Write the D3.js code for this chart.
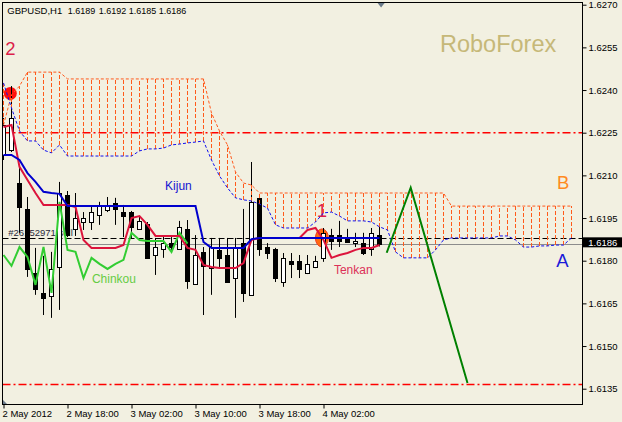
<!DOCTYPE html>
<html><head><meta charset="utf-8">
<script src="https://cdn.jsdelivr.net/npm/d3@7"></script>
<style>
html,body{margin:0;padding:0;background:#F2F0E1;}
svg{display:block;}
text{font-family:"Liberation Sans",Arial,sans-serif;}
</style></head><body>
<svg id="c" width="622" height="422"></svg>
<script>
// ---------- DATA ----------
const opens  = [1.62172,1.62189,1.62073,1.61982,1.61757,1.61687,1.61676,1.61778,1.62031,1.61912,1.61936,1.61936,1.61961,1.61978,1.62003,1.61971,1.61971,1.61912,1.61929,1.61820,1.61841,1.61862,1.61841,1.61912,1.61718,1.61831,1.61774,1.61838,1.61820,1.61739,1.61862,1.61680,1.62021,1.61848,1.61841,1.61725,1.61799,1.61799,1.61757,1.61778,1.61810,1.61890,1.61890,1.61880,1.61862,1.61862,1.61841,1.61890];
const highs  = [1.62302,1.62414,1.62126,1.62024,1.61845,1.61817,1.61831,1.62077,1.62045,1.62038,1.61971,1.61989,1.62007,1.62024,1.62021,1.61996,1.61975,1.61957,1.61936,1.61880,1.61890,1.61883,1.61940,1.61943,1.61890,1.61848,1.61880,1.61880,1.61880,1.61880,1.61982,1.62147,1.62024,1.61862,1.61845,1.61827,1.61827,1.61820,1.61820,1.61817,1.61915,1.61912,1.61940,1.61912,1.61898,1.61898,1.61915,1.61920];
const lows   = [1.62154,1.62182,1.61898,1.61743,1.61680,1.61609,1.61599,1.61627,1.61883,1.61887,1.61908,1.61908,1.61926,1.61971,1.61926,1.61883,1.61880,1.61908,1.61806,1.61750,1.61810,1.61831,1.61838,1.61701,1.61715,1.61609,1.61680,1.61778,1.61725,1.61599,1.61655,1.61676,1.61817,1.61806,1.61725,1.61708,1.61739,1.61739,1.61753,1.61774,1.61796,1.61838,1.61848,1.61866,1.61848,1.61820,1.61817,1.61850];
const closes = [1.62277,1.62302,1.61989,1.61771,1.61701,1.61669,1.61771,1.62038,1.61890,1.61950,1.61950,1.61971,1.61996,1.61996,1.61982,1.61957,1.61919,1.61940,1.61810,1.61848,1.61862,1.61848,1.61919,1.61729,1.61820,1.61782,1.61848,1.61810,1.61725,1.61848,1.61687,1.62007,1.61841,1.61827,1.61739,1.61810,1.61789,1.61771,1.61789,1.61799,1.61898,1.61869,1.61869,1.61866,1.61869,1.61827,1.61898,1.61860];

const tenkan = [1.62270,1.62277,1.62130,1.62084,1.62038,1.61996,1.61996,1.61996,1.61996,1.61989,1.61873,1.61845,1.61845,1.61845,1.61845,1.61855,1.61950,1.61957,1.61926,1.61887,1.61887,1.61887,1.61887,1.61845,1.61838,1.61785,1.61778,1.61774,1.61774,1.61774,1.61792,1.61873,1.61880,1.61880,1.61880,1.61880,1.61880,1.61880,1.61908,1.61915,1.61873,1.61810,1.61820,1.61827,1.61838,1.61845,1.61845,1.61855];
const kijun  = [1.62172,1.62172,1.62154,1.62108,1.62077,1.62042,1.62038,1.62035,1.61992,1.61992,1.61992,1.61992,1.61992,1.61992,1.61992,1.61992,1.61992,1.61992,1.61992,1.61992,1.61992,1.61992,1.61992,1.61992,1.61992,1.61866,1.61845,1.61845,1.61845,1.61845,1.61845,1.61876,1.61880,1.61880,1.61880,1.61880,1.61880,1.61880,1.61880,1.61880,1.61880,1.61880,1.61880,1.61880,1.61880,1.61880,1.61880,1.61880];
const chinkou = [1.61820,1.61782,1.61848,1.61813,1.61715,1.61848,1.61687,1.62007,1.61838,1.61831,1.61739,1.61810,1.61789,1.61771,1.61789,1.61803,1.61898,1.61873,1.61869,1.61869,1.61869,1.61831,1.61898,1.61860];
const spanA = [1.62425,1.62337,1.62256,1.62221,1.62221,1.62189,1.62179,1.62207,1.62168,1.62168,1.62168,1.62168,1.62168,1.62168,1.62168,1.62168,1.62168,1.62186,1.62193,1.62193,1.62196,1.62207,1.62210,1.62214,1.62217,1.62221,1.62154,1.62098,1.62056,1.62021,1.62014,1.62010,1.61999,1.61985,1.61926,1.61915,1.61915,1.61915,1.61915,1.61936,1.61968,1.61971,1.61957,1.61940,1.61940,1.61940,1.61936,1.61919,1.61908,1.61831,1.61810,1.61810,1.61810,1.61810,1.61838,1.61873,1.61880,1.61880,1.61880,1.61880,1.61880,1.61880,1.61887,1.61887,1.61873,1.61848,1.61848,1.61852,1.61852,1.61855,1.61855,1.61880];
const spanB = [1.62277,1.62383,1.62414,1.62463,1.62463,1.62463,1.62463,1.62463,1.62439,1.62439,1.62439,1.62439,1.62439,1.62439,1.62439,1.62439,1.62439,1.62439,1.62439,1.62439,1.62439,1.62439,1.62439,1.62439,1.62439,1.62439,1.62319,1.62256,1.62207,1.62112,1.62073,1.62066,1.62038,1.62038,1.62038,1.62038,1.62038,1.62038,1.62038,1.62038,1.62038,1.62038,1.62038,1.62038,1.62038,1.62038,1.62038,1.62038,1.62038,1.62038,1.62038,1.62038,1.62038,1.62038,1.62038,1.62038,1.61992,1.61992,1.61992,1.61992,1.61992,1.61992,1.61992,1.61992,1.61992,1.61992,1.61992,1.61992,1.61992,1.61992,1.61992,1.61992];

const forecastIdx   = [47.9, 50.9, 58];
const forecastPrice = [1.61828, 1.62057, 1.61370];

const levelPrices = [1.6225, 1.61365];
const orderPrice = 1.6188;
const bidPrice = 1.6186;
const orderLabel = "#26152971 sell";

const yTicks = [1.6135,1.6150,1.6165,1.6180,1.6195,1.6210,1.6225,1.6240,1.6255,1.6270];
const xTickIdx = [0,8,16,24,32,40];
const xTickLabels = ["2 May 2012","2 May 18:00","3 May 02:00","3 May 10:00","3 May 18:00","4 May 02:00"];

const symbolTitle = "GBPUSD,H1";
const ohlcTitle = ["1.6189","1.6192","1.6185","1.6186"];

const waveMarks = [{t:"2", i:0.85, p:1.62523}, {t:"1", i:39.8, p:1.61954}];
const lineNames = [
  {t:"Kijun",   i:20.2, p:1.62050, c:"#1414D2"},
  {t:"Chinkou", i:11.05, p:1.61722, c:"#66CC44"},
  {t:"Tenkan",  i:41.3, p:1.61752, c:"#DC3058"}
];
const spanNames = [{t:"B", i:69.2, p:1.62051, c:"#FF8A1E"}, {t:"A", i:69.1, p:1.61779, c:"#1A1AD8"}];
const circleMark = {i:0.85, p:1.62388};
const ellipseMark = {i:39.8, p:1.61880};

// ---------- SCALES ----------
const L=2.5, R=582.5, T=2.5, B=404.5;
const x = d3.scaleLinear().domain([0,72]).range([3.5, 579.5]);
const y = d3.scaleLinear().domain([1.6135,1.6270]).range([388.7, 4.7]);

const svg = d3.select("#c");
svg.append("rect").attr("width",622).attr("height",422).attr("fill","#F2F0E1");

svg.append("defs").append("clipPath").attr("id","clip")
  .append("rect").attr("x",L).attr("y",T).attr("width",R-L).attr("height",B-T);
const g = svg.append("g").attr("clip-path","url(#clip)");

// levels
levelPrices.forEach(p=>{
  g.append("line").attr("x1",L).attr("x2",R).attr("y1",y(p)).attr("y2",y(p))
   .attr("stroke","#FF0000").attr("stroke-width",1.5).attr("stroke-dasharray","8,3,2,3");
});
// bid line
g.append("line").attr("x1",L).attr("x2",R).attr("y1",Math.round(y(bidPrice))+0.5).attr("y2",Math.round(y(bidPrice))+0.5)
  .attr("stroke","#8C8C8C").attr("stroke-width",1);
// order line
g.append("line").attr("x1",L).attr("x2",R).attr("y1",Math.round(y(orderPrice))+0.5).attr("y2",Math.round(y(orderPrice))+0.5)
  .attr("stroke","#000").attr("stroke-width",1).attr("stroke-dasharray","6,3");
g.append("text").attr("x",8.3).attr("y",y(orderPrice)-1.5).text(orderLabel)
  .attr("font-size","9.5px").attr("fill","#2A2A3A");

// objects
g.append("circle").attr("cx",x(circleMark.i)).attr("cy",y(circleMark.p)).attr("r",6.5).attr("fill","#FF1010");
g.append("ellipse").attr("cx",x(ellipseMark.i)).attr("cy",y(ellipseMark.p)).attr("rx",6.5).attr("ry",9)
  .attr("fill","#FF6A10").attr("stroke","#F03A20").attr("stroke-width",1);
waveMarks.forEach(m=>{
  g.append("text").attr("x",x(m.i)).attr("y",y(m.p)).text(m.t).attr("text-anchor","middle")
   .attr("font-size","18.5px").attr("fill","#DC1E4A");
});
lineNames.forEach(m=>{
  g.append("text").attr("x",x(m.i)).attr("y",y(m.p)).text(m.t).attr("font-size","12px").attr("fill",m.c);
});
spanNames.forEach(m=>{
  g.append("text").attr("x",x(m.i)).attr("y",y(m.p)).text(m.t).attr("font-size","18.5px").attr("fill",m.c);
});
g.append("text").attr("x",440).attr("y",52).text("RoboForex").attr("font-size","23.5px").attr("fill","#C6B878");

// candles
const idx = d3.range(opens.length);
const cg = g.append("g");
idx.forEach(i=>{
  const cx = x(i);
  cg.append("line").attr("x1",cx).attr("x2",cx).attr("y1",y(highs[i])).attr("y2",y(lows[i]))
    .attr("stroke","#000").attr("stroke-width",1);
  const top = y(Math.max(opens[i],closes[i])), bot = y(Math.min(opens[i],closes[i]));
  const bull = closes[i] >= opens[i];
  cg.append("rect").attr("x",cx-2).attr("width",4)
    .attr("y",Math.round(top)+0.5).attr("height",Math.max(1,Math.round(bot)-Math.round(top)))
    .attr("fill",bull?"#FFFFFF":"#000000").attr("stroke","#000").attr("stroke-width",1);
});

// cloud hatch
const sIdx = d3.range(spanA.length);
const hg = g.append("g").attr("shape-rendering","crispEdges");
sIdx.forEach(i=>{
  hg.append("line").attr("x1",x(i)).attr("x2",x(i)).attr("y1",y(spanA[i])).attr("y2",y(spanB[i]))
   .attr("stroke","#FF5A1A").attr("stroke-width",1).attr("stroke-dasharray","4,2");
});
const line = arr => d3.line().x((d,i)=>x(i)).y(d=>y(d))(arr);
g.append("path").attr("d",line(spanB)).attr("fill","none").attr("stroke","#FF5A1E").attr("stroke-width",1).attr("stroke-dasharray","3,2");
g.append("path").attr("d",line(spanA)).attr("fill","none").attr("stroke","#1010F0").attr("stroke-width",1).attr("stroke-dasharray","3,2");

// ichimoku lines
g.append("path").attr("d",line(chinkou)).attr("fill","none").attr("stroke","#32CD32").attr("stroke-width",2);
g.append("path").attr("d",line(tenkan)).attr("fill","none").attr("stroke","#DC143C").attr("stroke-width",2);
g.append("path").attr("d",line(kijun)).attr("fill","none").attr("stroke","#0000CD").attr("stroke-width",2);

// forecast
g.append("path").attr("d",d3.line().x((d,i)=>x(forecastIdx[i])).y(d=>y(d))(forecastPrice))
  .attr("fill","none").attr("stroke","#008000").attr("stroke-width",2);

// border
svg.append("rect").attr("x",L).attr("y",T).attr("width",R-L).attr("height",B-T)
  .attr("fill","none").attr("stroke","#000").attr("stroke-width",1);

// axes
const yAxis = d3.axisRight(y).tickValues(yTicks).tickSize(4).tickPadding(2).tickFormat(d3.format(".4f"));
const ya = svg.append("g").attr("transform",`translate(${R},0)`).call(yAxis);
ya.select(".domain").remove();
ya.selectAll("line").attr("stroke","#000");
ya.selectAll("text").attr("font-size","9.5px").attr("font-family","Liberation Sans, Arial, sans-serif").attr("fill","#000");

const xAxis = d3.axisBottom(x).tickValues(xTickIdx).tickSize(4).tickPadding(2).tickFormat((d,i)=>xTickLabels[i]);
const xa = svg.append("g").attr("transform",`translate(0,${B})`).call(xAxis);
xa.select(".domain").remove();
xa.selectAll("line").attr("stroke","#000");
xa.selectAll("text").attr("font-size","9.5px").attr("font-family","Liberation Sans, Arial, sans-serif")
  .attr("fill","#000").attr("text-anchor","start").attr("dx","-1.5");

// bid price box
const by = y(bidPrice);
svg.append("rect").attr("x",583).attr("y",by-6.3).attr("width",39).attr("height",10).attr("fill","#000");
svg.append("text").attr("x",588.3).attr("y",by+2.6).text(d3.format(".4f")(bidPrice))
  .attr("font-size","9.5px").attr("fill","#fff");

// title
svg.append("text").attr("x",7.3).attr("y",14).text(symbolTitle).attr("font-size","9.5px").attr("fill","#000");
const titleX = [67.7, 98.7, 128.7, 158.7];
ohlcTitle.forEach((t,i)=>svg.append("text").attr("x",titleX[i]).attr("y",14).text(t).attr("font-size","9px").attr("fill","#000"));

// small markers
svg.append("path").attr("d",`M${x(47.2)-3.5},3 L${x(47.2)+3.5},3 L${x(47.2)},7.5 Z`).attr("fill","#6A7A8A");
svg.append("path").attr("d","M3,400 L3,404 L7,404 Z").attr("fill","#6A7A8A");
</script>
</body></html>
